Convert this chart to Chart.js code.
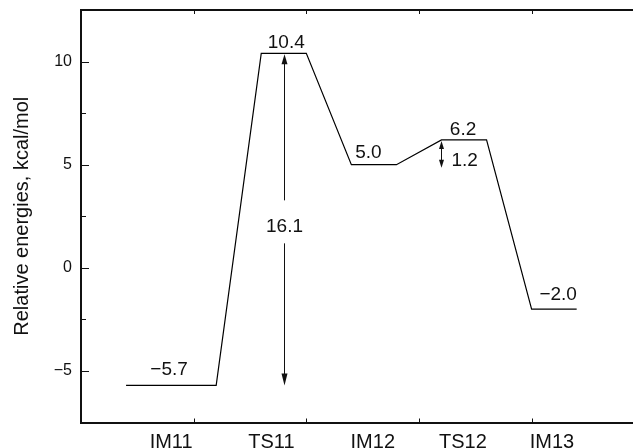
<!DOCTYPE html>
<html>
<head>
<meta charset="utf-8">
<script src="https://cdn.jsdelivr.net/npm/chart.js@4/dist/chart.umd.min.js"></script>
<style>
  html, body { margin: 0; padding: 0; background: #fff; }
  #wrap { width: 633px; height: 448px; }
</style>
</head>
<body>
<div id="wrap"><canvas id="c" width="633" height="448"></canvas></div>
<script>
// Reaction species and their relative energies (kcal/mol)
const species = ['IM11', 'TS11', 'IM12', 'TS12', 'IM13'];
const energies = [-5.7, 10.4, 5.0, 6.2, -2.0];
// Horizontal extent of each energy level along the reaction coordinate
const levelStart = [2, 8, 12, 16, 20];
const levelEnd = [6, 10, 14, 18, 22];
// Axis ticks
const yTicks = [-5, 0, 5, 10];
const yMinorTicks = [-2.5, 2.5, 7.5];
const xTickMarks = [0, 5, 10, 15, 20];
// Barriers marked with arrows: [from species index, to species index]
const barrierFrom = [0, 2];
const barrierTo = [1, 3];

const FONT = '"Liberation Sans", Arial, sans-serif';
const INK = '#111';

// Small placement nudges (value labels in pixels, category labels in axis units)
const labelDx = [-2, 2.5, -5.5, -1, 4];
const labelGap = [10, 5.5, 6.5, 5, 9];
const categoryNudge = [0, -0.55, -0.05, -0.05, -0.1];

const fmt = v => (v < 0 ? '\u2212' + Math.abs(v).toFixed(1) : v.toFixed(1));

// Profile polyline: each level is a flat segment, joined by straight lines
const profile = [];
energies.forEach((e, i) => {
  profile.push({ x: levelStart[i], y: e });
  profile.push({ x: levelEnd[i], y: e });
});
const levelCenter = levelStart.map((s, i) => (s + levelEnd[i]) / 2);

function arrowHead(ctx, x, tipY, dir, len, half) {
  ctx.beginPath();
  ctx.moveTo(x, tipY);
  ctx.lineTo(x - half, tipY - dir * len);
  ctx.lineTo(x + half, tipY - dir * len);
  ctx.closePath();
  ctx.fill();
}

// keep the plot frame tight: no extra room reserved for edge tick labels
const noEdgePadding = s => {
  s.paddingTop = 0; s.paddingBottom = 0; s.paddingLeft = 0; s.paddingRight = 0;
};

const decor = {
  id: 'decor',
  afterDatasetsDraw(chart) {
    const { ctx, chartArea: a, scales: { x, y } } = chart;
    ctx.save();
    ctx.strokeStyle = '#111';
    ctx.fillStyle = INK;

    // top frame line
    ctx.lineWidth = 2;
    ctx.beginPath();
    ctx.moveTo(a.left, a.top);
    ctx.lineTo(a.right, a.top);
    ctx.stroke();

    // inward tick marks
    ctx.lineWidth = 1;
    xTickMarks.forEach(v => {
      const px = Math.round(x.getPixelForValue(v)) + 0.5;
      ctx.beginPath();
      ctx.moveTo(px, a.bottom); ctx.lineTo(px, a.bottom - 4);
      ctx.moveTo(px, a.top); ctx.lineTo(px, a.top + 4);
      ctx.stroke();
    });
    yTicks.forEach(v => {
      const py = Math.round(y.getPixelForValue(v)) + 0.5;
      ctx.beginPath();
      ctx.moveTo(a.left, py); ctx.lineTo(a.left + 8, py);
      ctx.stroke();
    });
    yMinorTicks.forEach(v => {
      const py = Math.round(y.getPixelForValue(v)) + 0.5;
      ctx.beginPath();
      ctx.moveTo(a.left, py); ctx.lineTo(a.left + 5, py);
      ctx.stroke();
    });

    // energy values above each level
    ctx.font = '19px ' + FONT;
    ctx.textAlign = 'center';
    ctx.textBaseline = 'alphabetic';
    energies.forEach((e, i) => {
      const px = x.getPixelForValue(levelCenter[i]) + labelDx[i];
      const py = y.getPixelForValue(e) - labelGap[i];
      ctx.fillText(fmt(e), px, py);
    });

    // barrier 1: long arrow through the transition state centre, split by its label
    {
      const i0 = barrierFrom[0], i1 = barrierTo[0];
      const bx = Math.round(x.getPixelForValue(levelCenter[i1])) + 0.5;
      const yTop = y.getPixelForValue(energies[i1]);
      const yBot = y.getPixelForValue(energies[i0]);
      const yLab = (yTop + yBot) / 2 + 7;
      ctx.lineWidth = 1;
      ctx.beginPath();
      ctx.moveTo(bx, yLab - 26); ctx.lineTo(bx, yTop + 8);
      ctx.moveTo(bx, yLab + 17); ctx.lineTo(bx, yBot - 8);
      ctx.stroke();
      arrowHead(ctx, bx, yTop + 1, -1, 10, 3);
      arrowHead(ctx, bx, yBot, 1, 12, 3);
      ctx.textAlign = 'center';
      ctx.textBaseline = 'middle';
      ctx.fillText((energies[i1] - energies[i0]).toFixed(1), bx, yLab);
    }

    // barrier 2: short double arrow at the start of the second transition state
    {
      const i0 = barrierFrom[1], i1 = barrierTo[1];
      const bx = Math.round(x.getPixelForValue(levelStart[i1])) + 0.5;
      const yTop = y.getPixelForValue(energies[i1]) + 1;
      const yBot = y.getPixelForValue(energies[i0]) + 3;
      ctx.lineWidth = 1;
      ctx.beginPath();
      ctx.moveTo(bx, yTop + 5); ctx.lineTo(bx, yBot - 5);
      ctx.stroke();
      arrowHead(ctx, bx, yTop, -1, 8, 2.5);
      arrowHead(ctx, bx, yBot, 1, 8, 2.5);
      ctx.textAlign = 'left';
      ctx.textBaseline = 'middle';
      ctx.fillText((energies[i1] - energies[i0]).toFixed(1), bx + 10, (yTop + yBot) / 2 + 6);
    }
    ctx.restore();
  }
};

new Chart(document.getElementById('c'), {
  type: 'line',
  data: {
    datasets: [{
      data: profile,
      borderColor: '#000',
      borderWidth: 1.2,
      pointRadius: 0,
      tension: 0,
      fill: false
    }]
  },
  options: {
    responsive: false,
    animation: false,
    devicePixelRatio: 1,
    layout: { padding: { top: 10, right: 0, left: 0, bottom: 0 } },
    plugins: { legend: { display: false }, tooltip: { enabled: false } },
    scales: {
      x: {
        type: 'linear',
        min: 0,
        max: 24.5,
        grid: { display: false, drawTicks: false },
        border: { display: true, color: '#111', width: 2 },
        afterBuildTicks: s => { s.ticks = levelCenter.map((v, i) => ({ value: v + categoryNudge[i] })); },
        afterFit: s => { s.height = 25.5; noEdgePadding(s); },
        ticks: {
          autoSkip: false,
          maxRotation: 0,
          padding: 8,
          color: INK,
          font: { family: FONT, size: 20 },
          callback: (v, i) => species[i]
        }
      },
      y: {
        min: -7.5,
        max: 12.5,
        grid: { display: false, drawTicks: false },
        border: { display: true, color: '#111', width: 2 },
        afterBuildTicks: s => { s.ticks = yTicks.map(v => ({ value: v })); },
        afterFit: s => { s.width = 81; noEdgePadding(s); },
        ticks: {
          padding: 9,
          color: INK,
          font: { family: FONT, size: 16 },
          callback: v => (v < 0 ? '\u2212' + Math.abs(v) : String(v))
        },
        title: {
          display: true,
          text: 'Relative energies, kcal/mol',
          color: INK,
          font: { family: FONT, size: 20 },
          padding: { top: 10, bottom: 0 }
        }
      }
    }
  },
  plugins: [decor]
});
</script>
</body>
</html>
